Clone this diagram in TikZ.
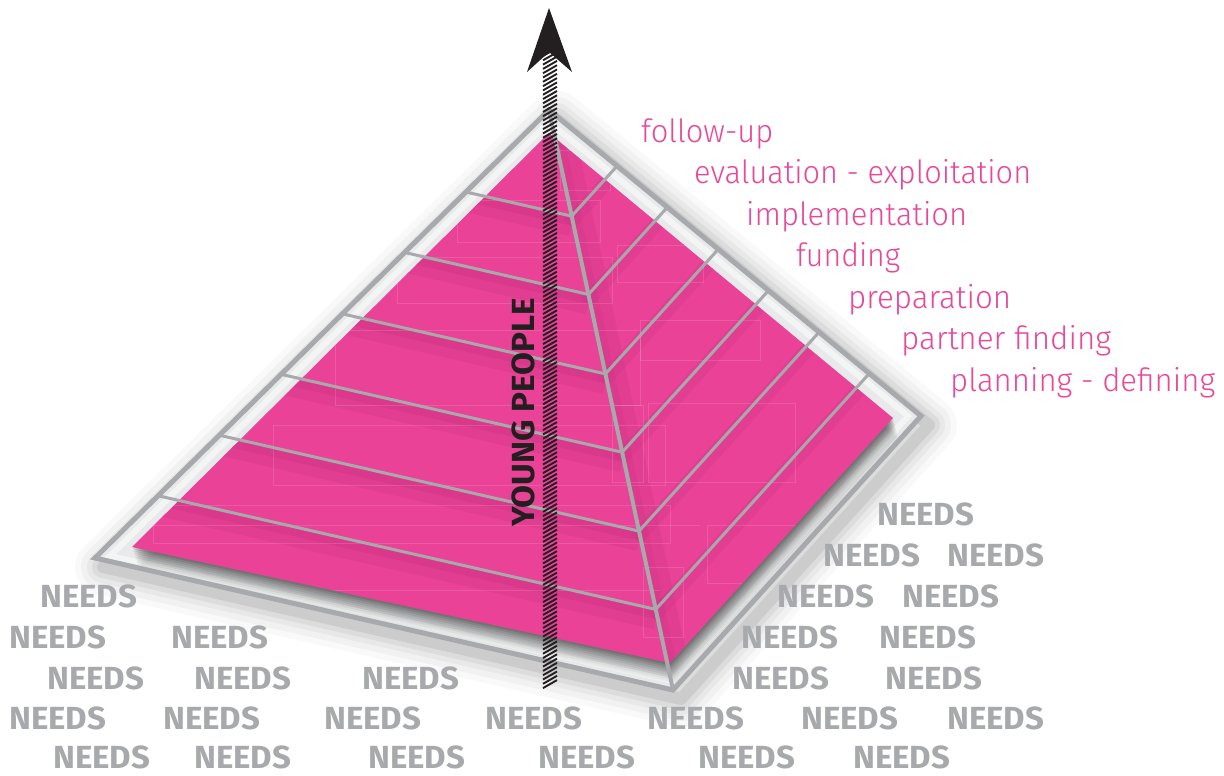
\documentclass[tikz,border=0pt]{standalone}
\usepackage{fontspec}
\setmainfont{Fira Sans}
\newfontfamily\lightfont{Fira Sans Light}
\usetikzlibrary{calc}
\definecolor{pk}{RGB}{233,66,150}
\definecolor{pkd}{RGB}{170,30,105}
\definecolor{fr}{RGB}{167,169,172}
\definecolor{bandc}{RGB}{232,233,234}
\definecolor{lbl}{RGB}{232,72,152}
\definecolor{nd}{RGB}{167,169,172}
\definecolor{blk}{RGB}{35,31,32}
\newsavebox\fitbox
\newcommand\fitw[2]{\sbox\fitbox{#2}\pgfmathsetmacro\fitxs{#1/\the\wd\fitbox}\scalebox{\fitxs}[1]{\usebox\fitbox}}
\def\outerpoly{(549,110)--(95,558)--(673,690)--(921,416)--cycle}
\def\innerpoly{(549,122)--(110,556)--(672,681)--(908,416)--cycle}
\def\pinkpoly{(549,133)--(132,547)--(670,663)--(893,418)--cycle}
\tikzset{
  needs/.style={font=\bfseries\fontsize{32}{32}\selectfont, text=nd, anchor=base west, inner sep=0pt},
  lab/.style={font=\lightfont\fontsize{32}{32}\selectfont, text=lbl, anchor=base west, inner sep=0pt},
  ypstyle/.style={font=\bfseries\fontsize{32}{32}\selectfont, text=blk, anchor=base west, inner sep=0pt, rotate=90},
  contour/.style={draw=fr, line width=3pt},
  ridgeline/.style={draw=fr, line width=4pt},
  framedraw/.style={draw=fr, line width=5pt, line join=miter},
  hatchline/.style={draw=blk, line width=1.9pt},
  texture/.style={draw=white, opacity=0.13, line width=0.8pt},
}
\begin{document}
\begin{tikzpicture}[x=1pt,y=-1pt]
\useasboundingbox (0,0) rectangle (1224,776);
% key points
\coordinate (A) at (549,110);
\coordinate (L) at (95,558);
\coordinate (B) at (673,690);
\coordinate (R) at (921,416);
% outer soft shadow
\begin{scope}[shift={(8,9)}]
\foreach \w/\o in {56/0.025,44/0.03,32/0.04,22/0.05,12/0.07}
  \draw[black, opacity=\o, line width=\w pt, line join=round] \outerpoly;
\end{scope}
% frame band
\fill[bandc] \outerpoly;
\draw[white, opacity=0.5, line width=6pt] \innerpoly;
% drop shadow of pink slab
\foreach \s/\o in {1/0.11,2/0.10,3/0.09,4/0.08,5/0.07,6/0.06,7/0.05,8/0.04,9/0.03,10/0.02}
  \fill[black, opacity=\o, shift={(\s*0.6,\s*2.2)}] \pinkpoly;
% pink slab
\fill[pk] \pinkpoly;
% contour coordinates
\foreach \f [count=\k] in {0.183,0.318,0.455,0.590,0.726,0.861} {
  \coordinate (cl\k) at ($(A)!\f!(L)$);
  \coordinate (cr\k) at ($(A)!\f!(B)$);
  \coordinate (ce\k) at ($(A)!\f!(R)$);
}
% shading and texture inside pink
\begin{scope}
\clip \pinkpoly;
\foreach \k in {1,...,6} {
  \draw[pkd, opacity=0.10, line width=20pt] ($(cl\k)+(0,10)$) -- ($(cr\k)+(0,10)$);
  \draw[pkd, opacity=0.13, line width=9pt] ($(cl\k)+(0,5)$) -- ($(cr\k)+(0,5)$);
  \draw[pkd, opacity=0.10, line width=14pt] ($(cr\k)+(-3,8)$) -- ($(ce\k)+(-3,8)$);
}
\draw[pkd, opacity=0.10, line width=20pt] ($(A)+(11,0)$) -- ($(B)+(11,0)$);
\draw[pkd, opacity=0.10, line width=8pt] ($(A)+(5,0)$) -- ($(B)+(5,0)$);
\draw[texture] (457,200) rectangle (600,242);
\draw[texture] (397,257) rectangle (612,303);
\draw[texture] (335,330) rectangle (640,405);
\draw[texture] (273,425) rectangle (665,485);
\draw[texture] (153,505) rectangle (670,543);
\draw[texture] (130,525) -- (700,525);
\draw[texture] (200,590) -- (660,590);
\draw[texture] (612,405) rectangle (643,482);
\draw[texture] (648,403) rectangle (795,482);
\draw[texture] (707,525) rectangle (795,583);
\draw[texture] (643,567) rectangle (683,637);
\draw[texture] (617,245) rectangle (703,282);
\draw[texture] (640,320) rectangle (760,360);
\draw[texture] (560,150) rectangle (610,190);
\end{scope}
% ridge and contour lines
\draw[ridgeline] (A) -- (B);
\foreach \k in {1,...,6}
  \draw[contour] (cl\k) -- (cr\k) -- (ce\k);
% frame
\draw[framedraw] \outerpoly;
% NEEDS
\foreach \x/\y [count=\i] in {877/525, 823/566, 947/566, 40/607, 777/607, 902/607,
  9/648, 171/648, 741/648, 879/648,
  47/689, 194/689, 362/689, 732/689, 885/689,
  9/729, 163/729, 324/729, 485/729, 647/729, 801/729, 947/729,
  53/768, 194/768, 368/768, 538/768, 698/768, 853/768}
  \node[needs] (nd\i) at (\x,\y) {\fitw{97}{NEEDS}};
% stage labels
\node[lab] (l1) at (641,142) {\fitw{132}{follow-up}};
\node[lab] (l2) at (694,183.5) {\fitw{337}{evaluation - exploitation}};
\node[lab] (l3) at (746,225) {\fitw{221}{implementation}};
\node[lab] (l4) at (796,266.5) {\fitw{104}{funding}};
\node[lab] (l5) at (848,308) {\fitw{163}{preparation}};
\node[lab] (l6) at (901,349.5) {\fitw{210}{partner finding}};
\node[lab] (l7) at (950,391) {\fitw{265}{planning - defining}};
% young people
\node[ypstyle] (yp) at (534,527) {\fitw{229}{YOUNG PEOPLE}};
% hatched arrow shaft
\foreach \k in {0,...,147} {
  \pgfmathsetmacro\yy{56+4.3*\k}
  \draw[hatchline] (543,\yy) -- (557,{\yy-8});
}
% arrow head
\coordinate (tip) at (549,8);
\coordinate (wr) at (572,72);
\coordinate (notch) at (549,52);
\coordinate (wl) at (527,72);
\fill[blk] (tip) -- (wr) -- (notch) -- (wl) -- cycle;
\end{tikzpicture}
\end{document}
